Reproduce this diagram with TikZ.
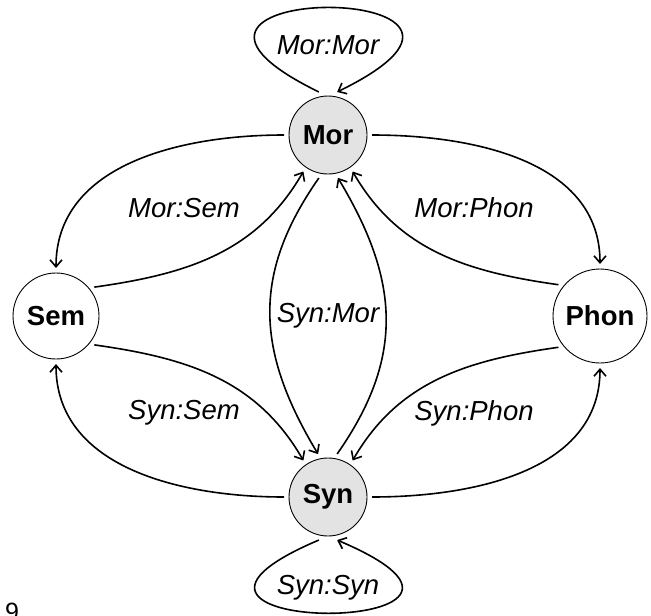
\documentclass[tikz,border=0pt]{standalone}
\usepackage{fontspec}
\setmainfont{Liberation Sans}
\usetikzlibrary{arrows.meta}
\begin{document}
\begin{tikzpicture}[x=1pt,y=1pt,
  state/.style={circle,draw=black,line width=0.9pt,inner sep=0pt,outer sep=5pt,
    font=\fontsize{27.5}{33}\selectfont\bfseries},
  shaded/.style={fill=black!11},
  edge/.style={line width=1.6pt,-{Straight Barb[length=7pt,width=12pt]}},
  lab/.style={font=\fontsize{27.5}{33}\selectfont\itshape,inner sep=0pt}]
\useasboundingbox (0,0) rectangle (651,-616);
\node[state,shaded,minimum size=78pt] (mor) at (328,-135) {Mor};
\node[state,shaded,minimum size=78pt] (syn) at (328,-497) {Syn};
\node[state,minimum size=86pt] (sem) at (56,-316) {Sem};
\node[state,minimum size=94pt] (phon) at (600,-316) {Phon};
% outer arcs
\draw[edge] (mor.180) to[out=180,in=90] (sem.90);
\draw[edge] (mor.0) to[out=0,in=90] (phon.90);
\draw[edge] (syn.180) to[out=180,in=270] (sem.270);
\draw[edge] (syn.0) to[out=0,in=270] (phon.270);
% inner arcs
\draw[edge] (sem.37) to[out=8,in=240] (mor.236);
\draw[edge] (phon.143) to[out=172,in=300] (mor.304);
\draw[edge] (sem.-37) to[out=-8,in=120] (syn.124);
\draw[edge] (phon.217) to[out=188,in=60] (syn.56);
% central arcs
\draw[edge] (mor.258) to[out=235,in=121,looseness=1.1] (syn.103);
\draw[edge] (syn.78) to[out=55,in=301,looseness=1.1] (mor.283);
% loops
\draw[edge] (mor.102) to[out=154,in=26,looseness=36] (mor.78);
\draw[edge] (syn.258) to[out=203,in=337,looseness=35] (syn.282);
% labels
\node[lab] (lmm) at (328,-45) {Mor:Mor};
\node[lab] (lss) at (328,-588) {Syn:Syn};
\node[lab] (lms) at (184,-208) {Mor:Sem};
\node[lab] (lss2) at (184,-413) {Syn:Sem};
\node[lab] (lmp) at (474,-208) {Mor:Phon};
\node[lab] (lsp) at (474,-413) {Syn:Phon};
\node[lab] (lsm) at (328,-316) {Syn:Mor};
\node[font=\fontsize{25}{30}\selectfont,inner sep=0pt,anchor=base west] (nine) at (5,-620) {9};
\end{tikzpicture}
\end{document}
